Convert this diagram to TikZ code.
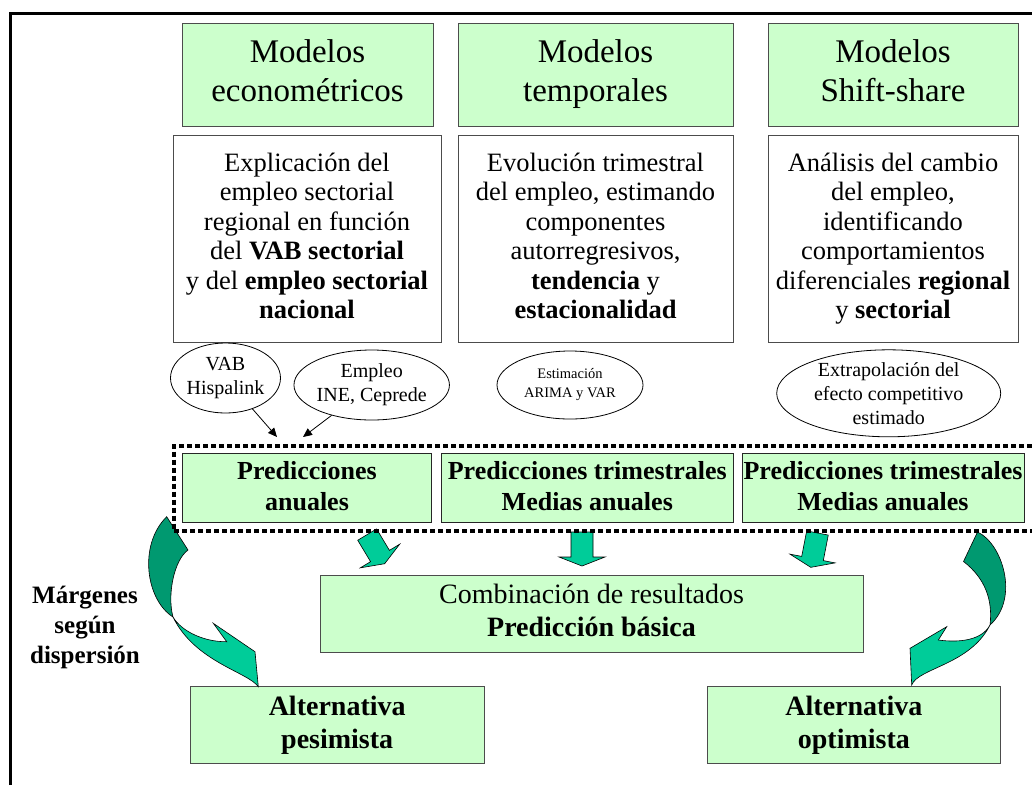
\documentclass[tikz,border=0pt]{standalone}
\usepackage{fontspec}
\setmainfont{Liberation Serif}
\usetikzlibrary{shapes.geometric, arrows.meta}
\definecolor{boxgreen}{RGB}{204,255,204}
\definecolor{arrlight}{RGB}{0,204,153}
\definecolor{arrdark}{RGB}{0,153,112}
\newcommand{\linestrut}{\rule[-.216em]{0pt}{1.107em}}
\tikzset{
  even/.style={execute at begin node=\linestrut, execute at end node=\linestrut},
  modbox/.style={even, draw=black!70, fill=boxgreen, line width=1pt, align=center, inner sep=0pt,
    minimum height=103pt, font=\fontsize{33}{39}\selectfont},
  descbox/.style={even, draw=black!70, fill=white, line width=1pt, align=center, inner sep=0pt,
    minimum height=207pt, font=\fontsize{26.5}{29.5}\selectfont},
  predbox/.style={even, draw=black!85, fill=boxgreen, line width=1pt, align=center, inner sep=0pt,
    minimum height=69pt, font=\bfseries\fontsize{26}{31}\selectfont},
  resbox/.style={even, draw=black!70, fill=boxgreen, line width=1pt, align=center, inner sep=0pt,
    minimum height=77pt, font=\fontsize{28}{33}\selectfont},
  source/.style={ellipse, draw, fill=white, line width=0.8pt, align=center, inner xsep=0pt,
    inner ysep=-3pt, font=\fontsize{20}{24}\selectfont},
  greenarrow/.style={fill=arrlight, draw=black, line width=0.6pt},
  darkarrow/.style={fill=arrdark, draw=black, line width=0.6pt},
}
% block arrow: base of head, rotation, shaft length
\newcommand{\blkarrow}[3]{%
  \begin{scope}[shift={#1}, rotate=#2]
    \filldraw [greenarrow] (-11,-#3) -- (11,-#3) -- (11,0) -- (23,0) -- (0,9) -- (-23,0) -- (-11,0) -- cycle;
  \end{scope}}
\begin{document}
\begin{tikzpicture}[x=1pt,y=-1pt]
\useasboundingbox (0,0) rectangle (1032,785);
\draw [line width=3pt] (10,785) -- (10,13) -- (1032,13);
% model headers
\node [modbox, minimum width=251pt] (mecon) at (307.5,74.5) {Modelos\\econométricos};
\node [modbox, minimum width=275pt] (mtemp) at (595.5,74.5) {Modelos\\temporales};
\node [modbox, minimum width=250pt] (mshift) at (893,74.5) {Modelos\\Shift-share};
% descriptions
\node [descbox, minimum width=268pt] (decon) at (307,238.5) {Explicación del\\empleo sectorial\\regional en función\\del \textbf{VAB sectorial}\\y del \textbf{empleo sectorial}\\\textbf{nacional}};
\node [descbox, minimum width=275pt] (dtemp) at (595.5,238.5) {Evolución trimestral\\del empleo, estimando\\componentes\\autorregresivos,\\\textbf{tendencia} y\\\textbf{estacionalidad}};
\node [descbox, minimum width=250pt] (dshift) at (893,238.5) {Análisis del cambio\\del empleo,\\identificando\\comportamientos\\diferenciales \textbf{regional}\\y \textbf{sectorial}};
% sources
\node [source, minimum width=105pt, minimum height=70pt] (vab) at (225.5,378) {VAB\\Hispalink};
\node [source, minimum width=155pt, minimum height=70pt] (empleo) at (371.7,385) {Empleo\\INE, Ceprede};
\node [source, minimum width=146pt, minimum height=68pt, font=\fontsize{14.5}{19}\selectfont] (arima) at (570,385) {Estimación\\ARIMA y VAR};
\node [source, minimum width=224pt, minimum height=87pt] (extrap) at (888.7,393.3) {Extrapolación del\\efecto competitivo\\estimado};
\coordinate (vabend) at (277,437);
\coordinate (empend) at (303,437);
\draw [->, >={Triangle[length=9pt,width=8pt]}, line width=0.8pt] (vab) -- (vabend);
\draw [->, >={Triangle[length=9pt,width=8pt]}, line width=0.8pt] (empleo) -- (empend);
% predictions
\node [predbox, minimum width=249pt] (pecon) at (307,488.3) {Predicciones\\anuales};
\node [predbox, minimum width=292.5pt] (ptemp) at (587.3,488.3) {Predicciones trimestrales\\Medias anuales};
\node [predbox, minimum width=282pt] (pshift) at (883,488.3) {Predicciones trimestrales\\Medias anuales};
% results
\node [resbox, minimum width=543pt] (comb) at (591.5,613.5) {Combinación de resultados\\\textbf{Predicción básica}};
\node [resbox, minimum width=293.6pt, font=\bfseries\fontsize{28}{33}\selectfont] (pesim) at (337.2,725.3) {Alternativa\\pesimista};
\node [resbox, minimum width=293.7pt, font=\bfseries\fontsize{28}{33}\selectfont] (optim) at (853.9,725.3) {Alternativa\\optimista};
\node [align=center, font=\bfseries\fontsize{25}{30}\selectfont] (margen) at (85,627) {Márgenes\\según\\dispersión};
% block arrows into the combination
\blkarrow{(380,556)}{31}{25}
\blkarrow{(582,557)}{0}{25}
\blkarrow{(812.5,558.5)}{-11}{26}
% curved arrow, left
\filldraw [darkarrow] (166.7,516.7) -- (188,550)
  .. controls (174,560) and (167,595) .. (173,617)
  .. controls (146,600) and (138,545) .. (166.7,516.7) -- cycle;
\filldraw [greenarrow] (173,617) .. controls (182,632) and (205,642) .. (226.7,641.7)
  -- (213.3,623.3) -- (255,651.7) -- (258.3,686.7)
  .. controls (248,672) and (195,662) .. (173,617) -- cycle;
% curved arrow, right
\filldraw [darkarrow] (963.5,561.5) -- (977.5,532)
  .. controls (1002,543) and (1020,598) .. (990,625)
  .. controls (993,600) and (985,578) .. (963.5,561.5) -- cycle;
\filldraw [greenarrow] (990,625) .. controls (982,640) and (960,643) .. (938.3,640)
  -- (946.7,626.7) -- (910,648.3) -- (911.7,685)
  .. controls (918,668) and (970,665) .. (990,625) -- cycle;
% dotted frame round the predictions
\draw [line width=4pt, dash pattern=on 5pt off 3pt] (1032,446) -- (173.5,446) -- (173.5,531) -- (1032,531);
\end{tikzpicture}
\end{document}
